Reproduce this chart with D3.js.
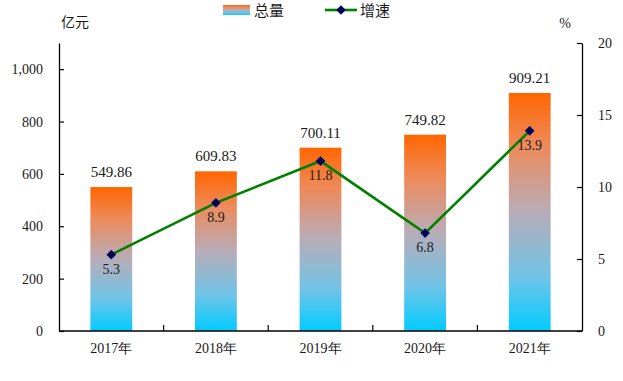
<!DOCTYPE html>
<html><head><meta charset="utf-8">
<script src="https://cdn.jsdelivr.net/npm/d3@7/dist/d3.min.js"></script>
<style>
html,body{margin:0;padding:0;background:#fff;}
text{font-family:"Liberation Serif","Times New Roman",Times,Tinos,"DejaVu Serif",serif;fill:#1a1a1a;}
</style></head>
<body>
<svg id="chart" width="623" height="381"></svg>
<script>
const categories = ["2017年","2018年","2019年","2020年","2021年"];
const totals = [549.86, 609.83, 700.11, 749.82, 909.21];
const growth = [5.3, 8.9, 11.8, 6.8, 13.9];
const leftTicks = [0, 200, 400, 600, 800, 1000];
const rightTicks = [0, 5, 10, 15, 20];

const FONT = '"Liberation Serif","Times New Roman",Times,Tinos,"DejaVu Serif",serif';
const CJK = '"Noto Sans CJK SC",sans-serif';

const svg = d3.select("#chart");
const L = 59, R = 582, T = 43, B = 331;

const x = d3.scaleBand().domain(categories).range([L, R]).paddingInner(0.6).paddingOuter(0.3);
const yL = d3.scaleLinear().domain([0, 1100]).range([B, T]);
const yR = d3.scaleLinear().domain([0, 20]).range([B, T]);

const defs = svg.append("defs");
const grad = defs.append("linearGradient").attr("id", "barGrad")
  .attr("x1", 0).attr("y1", 0).attr("x2", 0).attr("y2", 1);
grad.append("stop").attr("offset", "0%").attr("stop-color", "#ff6600");
grad.append("stop").attr("offset", "22%").attr("stop-color", "#ee8a5a");
grad.append("stop").attr("offset", "50%").attr("stop-color", "#b8adb8");
grad.append("stop").attr("offset", "78%").attr("stop-color", "#6ec4e8");
grad.append("stop").attr("offset", "100%").attr("stop-color", "#00ccff");

// bars
svg.append("g").selectAll("rect").data(totals).join("rect")
  .attr("x", (d, i) => x(categories[i]))
  .attr("width", x.bandwidth())
  .attr("y", d => yL(d))
  .attr("height", d => B - yL(d))
  .attr("fill", "url(#barGrad)");

// bar labels
svg.append("g").selectAll("text").data(totals).join("text")
  .attr("x", (d, i) => x(categories[i]) + x.bandwidth() / 2)
  .attr("y", d => yL(d) - 10)
  .attr("text-anchor", "middle")
  .attr("font-size", 15)
  .text(d => d.toFixed(2));

// axes
const axisStyle = g => {
  g.select(".domain").attr("stroke", "#000").attr("stroke-width", 1.3);
  g.selectAll(".tick line").attr("stroke", "#000").attr("stroke-width", 1.2);
  g.selectAll("text").attr("font-size", 14).attr("fill", "#1a1a1a")
    .style("font-family", FONT);
};

svg.append("g").attr("transform", `translate(${L},0)`)
  .call(d3.axisLeft(yL).tickValues(leftTicks).tickSize(-5).tickSizeOuter(0).tickPadding(16).tickFormat(d3.format(",")))
  .call(axisStyle);

svg.append("g").attr("transform", `translate(${R},0)`)
  .call(d3.axisRight(yR).tickValues(rightTicks).tickSize(-5).tickSizeOuter(0).tickPadding(16))
  .call(axisStyle);

const xAxis = svg.append("g").attr("transform", `translate(0,${B})`)
  .call(d3.axisBottom(x).tickSize(0).tickSizeOuter(0).tickPadding(12))
  .call(axisStyle);
xAxis.select(".domain").attr("d", `M${L},0H${R}`);
// category boundary ticks
const bounds = categories.slice(1).map(c => x(c) - x.step() * x.paddingInner() / 2);
xAxis.selectAll(".btick").data(bounds).join("line").attr("class", "btick")
  .attr("x1", d => d).attr("x2", d => d).attr("y1", 0).attr("y2", -6)
  .attr("stroke", "#000").attr("stroke-width", 1.2);

// line
const cx = (d, i) => x(categories[i]) + x.bandwidth() / 2;
svg.append("path").datum(growth)
  .attr("d", d3.line().x(cx).y(d => yR(d)))
  .attr("fill", "none").attr("stroke", "#008000").attr("stroke-width", 2.6);

const marker = d3.symbol().type(d3.symbolSquare).size(34);
svg.append("g").selectAll("path").data(growth).join("path")
  .attr("transform", (d, i) => `translate(${cx(d, i)},${yR(d)}) rotate(45)`)
  .attr("d", marker)
  .attr("fill", "#000033").attr("stroke", "#000099").attr("stroke-width", 1);

svg.append("g").selectAll("text").data(growth).join("text")
  .attr("x", cx)
  .attr("y", d => yR(d) + 19)
  .attr("text-anchor", "middle")
  .attr("font-size", 14)
  .text(d => d.toFixed(1));

// unit labels
svg.append("text").attr("x", 61).attr("y", 27).attr("font-size", 14)
  .style("font-family", CJK).text("亿元");
svg.append("text").attr("x", 565).attr("y", 28).attr("font-size", 14).attr("text-anchor", "middle").text("%");

// legend
const lg = svg.append("g");
lg.append("rect").attr("x", 223).attr("y", 5).attr("width", 27).attr("height", 10).attr("fill", "url(#barGrad)");
lg.append("text").attr("x", 254).attr("y", 16).attr("font-size", 15)
  .style("font-family", CJK).text("总量");
lg.append("line").attr("x1", 325).attr("x2", 357).attr("y1", 10).attr("y2", 10)
  .attr("stroke", "#008000").attr("stroke-width", 2.6);
lg.append("path").attr("transform", "translate(341,10) rotate(45)").attr("d", marker)
  .attr("fill", "#000033").attr("stroke", "#000099").attr("stroke-width", 1);
lg.append("text").attr("x", 360).attr("y", 16).attr("font-size", 15)
  .style("font-family", CJK).text("增速");
</script>
</body></html>
